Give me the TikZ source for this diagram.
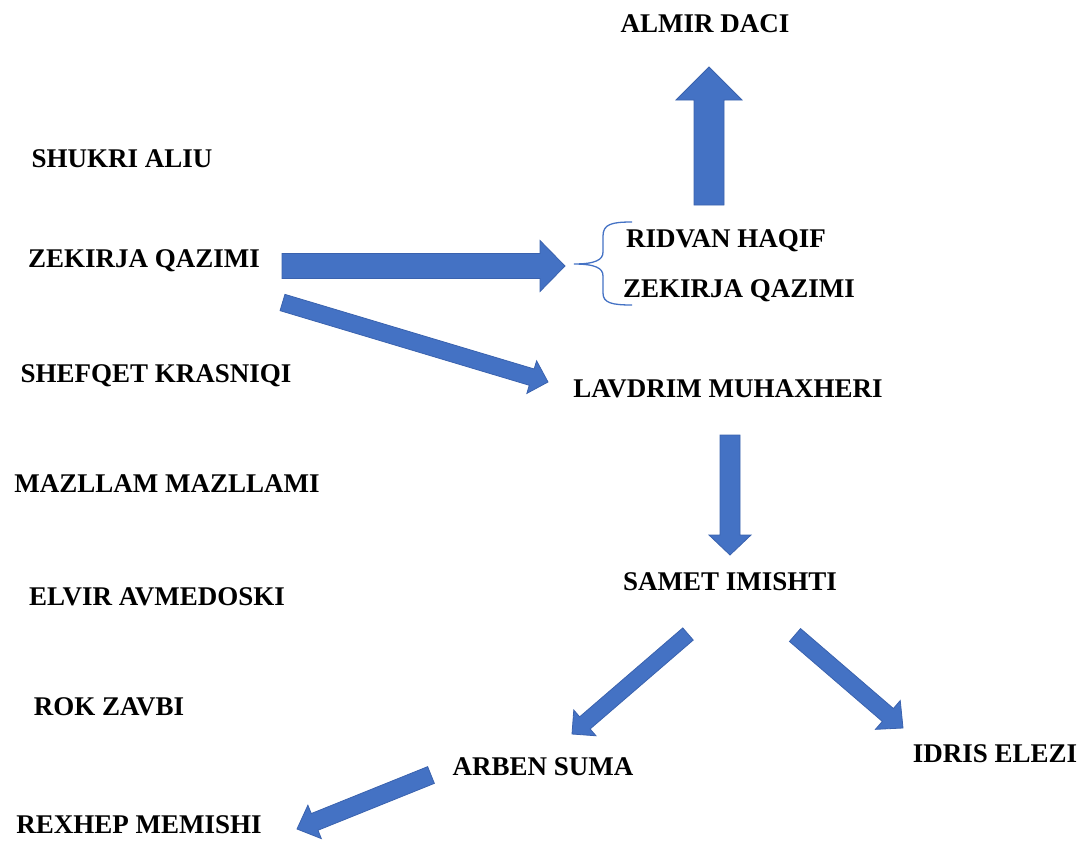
\documentclass[tikz,border=0pt]{standalone}
\usepackage{fontspec}
\setmainfont{Liberation Serif}
\usetikzlibrary{calc}
\definecolor{arrowblue}{HTML}{4472C4}
\definecolor{arrowedge}{HTML}{3A62AE}
\tikzset{
  personlabel/.style={inner sep=0pt, anchor=base, font=\bfseries\fontsize{27}{32}\selectfont},
  blockarrowstyle/.style={fill=arrowblue, draw=arrowedge, line width=0.8pt, line join=miter},
  bracestyle/.style={draw=arrowblue, line width=1.3pt}
}
% #1 tail, #2 tip, #3 shaft half width, #4 head half width, #5 head length
\newcommand\blockarrow[5]{%
  \filldraw[blockarrowstyle]
    ($(#1)!#3!90:(#2)$) --
    ($(#2)!#5!(#1)!#3!-90:(#1)$) --
    ($(#2)!#5!(#1)!#4!-90:(#1)$) --
    (#2) --
    ($(#2)!#5!(#1)!#4!90:(#1)$) --
    ($(#2)!#5!(#1)!#3!90:(#1)$) --
    ($(#1)!#3!-90:(#2)$) -- cycle;}
\begin{document}
\begin{tikzpicture}[x=1pt, y=-1pt]
\useasboundingbox (0,0) rectangle (1082,841);
% names
\node[personlabel] (almir)   at (705,32)  {ALMIR DACI};
\node[personlabel] (shukri)  at (122,167) {SHUKRI ALIU};
\node[personlabel] (zekL)    at (144,267) {ZEKIRJA QAZIMI};
\node[personlabel] (shefqet) at (156,382) {SHEFQET KRASNIQI};
\node[personlabel] (mazllam) at (167,492) {MAZLLAM MAZLLAMI};
\node[personlabel] (elvir)   at (157,605) {ELVIR AVMEDOSKI};
\node[personlabel] (rok)     at (109,715) {ROK ZAVBI};
\node[personlabel] (ridvan)  at (726,247) {RIDVAN HAQIF};
\node[personlabel] (zekR)    at (739,297) {ZEKIRJA QAZIMI};
\node[personlabel] (lavdrim) at (728,397) {LAVDRIM MUHAXHERI};
\node[personlabel] (samet)   at (730,590) {SAMET IMISHTI};
\node[personlabel] (arben)   at (543,775) {ARBEN SUMA};
\node[personlabel] (idris)   at (995,762) {IDRIS ELEZI};
\node[personlabel] (rexhep)  at (139,833) {REXHEP MEMISHI};
% arrow end points
\coordinate (upT) at (709,205);  \coordinate (upH) at (709,67);
\coordinate (rT)  at (282,266);  \coordinate (rH)  at (565,266);
\coordinate (dgT) at (282.5,302.5); \coordinate (dgH) at (548,382);
\coordinate (dnT) at (730,435);  \coordinate (dnH) at (730,555);
\coordinate (slT) at (688,634);  \coordinate (slH) at (572,734);
\coordinate (srT) at (795,635);  \coordinate (srH) at (903,728);
\coordinate (arT) at (431,775);  \coordinate (arH) at (297,829);
% block arrows
\blockarrow{upT}{upH}{15pt}{33pt}{33pt}
\blockarrow{rT}{rH}{12.5pt}{25.5pt}{25pt}
\blockarrow{dgT}{dgH}{8.5pt}{17pt}{17pt}
\blockarrow{dnT}{dnH}{10pt}{21pt}{20pt}
\blockarrow{slT}{slH}{8pt}{17pt}{17pt}
\blockarrow{srT}{srH}{8.5pt}{19pt}{20pt}
\blockarrow{arT}{arH}{9pt}{18pt}{19pt}
% brace
\coordinate (braceTip) at (574,264);
\draw[bracestyle] (632,222) .. controls (612,222) and (603,224) .. (603,236)
  -- (603,252) .. controls (603,260) and (595,264) .. (braceTip)
  .. controls (595,264) and (603,268) .. (603,276)
  -- (603,293) .. controls (603,303) and (612,305) .. (632,305);
\end{tikzpicture}
\end{document}
